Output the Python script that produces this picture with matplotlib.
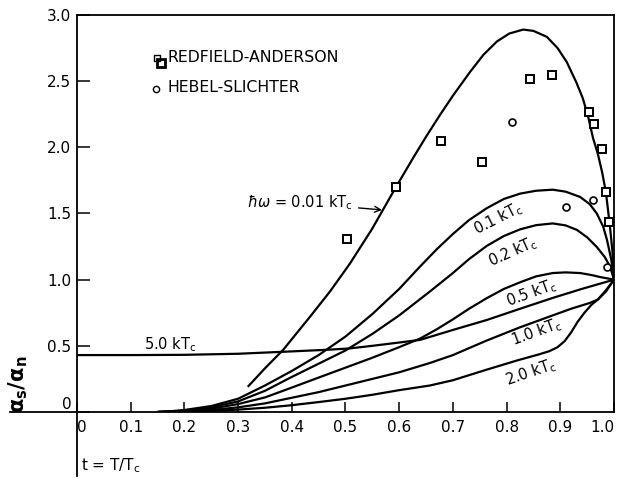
import matplotlib
matplotlib.use('Agg')
import matplotlib.pyplot as plt

# theoretical alpha_s/alpha_n curves, one per photon energy (t = T/Tc)
t_001 = [0.318, 0.35, 0.384, 0.397, 0.434, 0.471, 0.508, 0.549, 0.594, 0.626, 0.65,
         0.676, 0.70, 0.732, 0.757, 0.782, 0.805, 0.831, 0.85, 0.875, 0.895, 0.912,
         0.93, 0.942, 0.952, 0.961, 0.97, 0.978, 0.985, 0.992, 0.997, 1.0]
a_001 = [0.19, 0.33, 0.47, 0.535, 0.72, 0.91, 1.12, 1.38, 1.70, 1.92, 2.08,
         2.245, 2.39, 2.57, 2.70, 2.80, 2.86, 2.89, 2.88, 2.835, 2.75, 2.645,
         2.49, 2.37, 2.23, 2.07, 1.95, 1.81, 1.66, 1.42, 1.22, 1.0]

t_01 = [0.15, 0.175, 0.2, 0.25, 0.3, 0.35, 0.4, 0.45, 0.5, 0.55, 0.6,
        0.639, 0.67, 0.70, 0.73, 0.763, 0.795, 0.825, 0.855, 0.886, 0.91, 0.937,
        0.955, 0.968, 0.98, 0.987, 0.995, 1.0]
a_01 = [0.0, 0.006, 0.015, 0.045, 0.10, 0.20, 0.31, 0.43, 0.57, 0.74, 0.93,
        1.10, 1.23, 1.345, 1.45, 1.54, 1.61, 1.65, 1.672, 1.68, 1.665, 1.625,
        1.57, 1.50, 1.40, 1.30, 1.15, 1.0]

t_02 = [0.15, 0.175, 0.2, 0.25, 0.3, 0.35, 0.4, 0.45, 0.5, 0.55, 0.6, 0.657,
        0.70, 0.73, 0.763, 0.795, 0.825, 0.855, 0.886, 0.91, 0.931, 0.95, 0.968,
        0.983, 0.993, 1.0]
a_02 = [0.0, 0.004, 0.01, 0.035, 0.08, 0.16, 0.265, 0.365, 0.465, 0.59, 0.73, 0.91,
        1.05, 1.155, 1.255, 1.33, 1.38, 1.412, 1.425, 1.41, 1.376, 1.32, 1.247,
        1.17, 1.096, 1.0]

t_05 = [0.15, 0.175, 0.2, 0.25, 0.3, 0.35, 0.397, 0.45, 0.5, 0.55, 0.6, 0.639,
        0.67, 0.70, 0.73, 0.763, 0.795, 0.825, 0.855, 0.886, 0.91, 0.937, 0.958,
        0.974, 1.0]
a_05 = [0.0, 0.003, 0.008, 0.025, 0.06, 0.11, 0.18, 0.26, 0.335, 0.41, 0.49, 0.555,
        0.625, 0.70, 0.78, 0.86, 0.93, 0.98, 1.025, 1.05, 1.055, 1.05, 1.035,
        1.02, 1.0]

t_10 = [0.15, 0.175, 0.2, 0.25, 0.3, 0.35, 0.397, 0.45, 0.5, 0.55, 0.6, 0.657,
        0.70, 0.763, 0.825, 0.886, 0.92, 0.955, 0.97, 0.985, 1.0]
a_10 = [0.0, 0.002, 0.005, 0.015, 0.035, 0.065, 0.105, 0.15, 0.20, 0.25, 0.30, 0.37,
        0.43, 0.54, 0.64, 0.73, 0.78, 0.824, 0.85, 0.91, 1.0]

t_20 = [0.15, 0.2, 0.25, 0.3, 0.35, 0.397, 0.45, 0.5, 0.55, 0.6, 0.657, 0.70,
        0.763, 0.82, 0.86, 0.88, 0.895, 0.908, 0.92, 0.932, 0.945, 0.958, 0.97,
        0.985, 1.0]
a_20 = [0.0, 0.003, 0.008, 0.018, 0.032, 0.05, 0.075, 0.10, 0.13, 0.165, 0.20, 0.24,
        0.32, 0.39, 0.435, 0.46, 0.49, 0.535, 0.60, 0.68, 0.75, 0.81, 0.85,
        0.92, 1.0]

t_50 = [0.0, 0.1, 0.2, 0.3, 0.384, 0.465, 0.507, 0.55, 0.6, 0.639, 0.70, 0.763,
        0.825, 0.886, 0.94, 1.0]
a_50 = [0.43, 0.43, 0.432, 0.44, 0.455, 0.47, 0.48, 0.50, 0.525, 0.545, 0.62, 0.695,
        0.78, 0.862, 0.93, 1.0]

# measurements
ra_t = [0.502, 0.594, 0.677, 0.755, 0.844, 0.885, 0.954, 0.963, 0.977, 0.985, 0.991]
ra_a = [1.305, 1.70, 2.05, 1.89, 2.515, 2.55, 2.27, 2.18, 1.985, 1.665, 1.434]
hs_t = [0.811, 0.911, 0.960, 0.987]
hs_a = [2.195, 1.547, 1.60, 1.094]

yticks = [0, 0.5, 1.0, 1.5, 2.0, 2.5, 3.0]
ytick_labels = ['0', '0.5', '1.0', '1.5', '2.0', '2.5', '3.0']
xticks = [0, 0.1, 0.2, 0.3, 0.4, 0.5, 0.6, 0.7, 0.8, 0.9, 1.0]
xtick_labels = ['0', '0.1', '0.2', '0.3', '0.4', '0.5', '0.6', '0.7', '0.8', '0.9', '1.0']

fig = plt.figure(figsize=(6.18, 4.78), dpi=100)
ax = fig.add_axes([0.1246, 0.1381, 0.8689, 0.8305])
ax.set_xlim(0, 1)
ax.set_ylim(0, 3)

lw = 1.6
for tt, aa in [(t_001, a_001), (t_01, a_01), (t_02, a_02), (t_05, a_05),
               (t_10, a_10), (t_20, a_20), (t_50, a_50)]:
    ax.plot(tt, aa, color='black', lw=lw, solid_capstyle='butt', solid_joinstyle='round')

ax.plot(ra_t, ra_a, 's', ms=6, mfc='white', mec='black', mew=1.4)
ax.plot(hs_t, hs_a, 'o', ms=5, mfc='white', mec='black', mew=1.2)

# key
ax.plot([0.149], [2.676], 's', ms=4.5, mfc='white', mec='black', mew=1.0)
ax.plot([0.156], [2.64], 's', ms=6, mfc='none', mec='black', mew=2.0)
ax.plot([0.147], [2.44], 'o', ms=4.5, mfc='white', mec='black', mew=1.0)
ax.text(0.169, 2.68, 'REDFIELD-ANDERSON', fontsize=11.3, va='center', ha='left')
ax.text(0.169, 2.45, 'HEBEL-SLICHTER', fontsize=11.3, va='center', ha='left')

# curve labels
fs = 10.5
ax.annotate(r'$\hbar\omega$ = 0.01 kT$_\mathrm{c}$', xy=(0.568, 1.527), xytext=(0.317, 1.58),
            fontsize=fs, va='center', ha='left',
            arrowprops=dict(arrowstyle='->', color='black', lw=1.0, shrinkA=2, shrinkB=0))
ax.text(0.784, 1.46, r'0.1 kT$_\mathrm{c}$', fontsize=fs, rotation=27, ha='center', va='center')
ax.text(0.812, 1.21, r'0.2 kT$_\mathrm{c}$', fontsize=fs, rotation=24, ha='center', va='center')
ax.text(0.847, 0.90, r'0.5 kT$_\mathrm{c}$', fontsize=fs, rotation=20, ha='center', va='center')
ax.text(0.856, 0.60, r'1.0 kT$_\mathrm{c}$', fontsize=fs, rotation=20, ha='center', va='center')
ax.text(0.845, 0.30, r'2.0 kT$_\mathrm{c}$', fontsize=fs, rotation=19, ha='center', va='center')
ax.text(0.173, 0.51, r'5.0 kT$_\mathrm{c}$', fontsize=fs, ha='center', va='center')

# axes frame, ticks pointing inward
for s in ax.spines.values():
    s.set_linewidth(1.3)
ax.set_xticks(xticks)
ax.set_xticklabels(xtick_labels)
ax.set_yticks(yticks)
ax.set_yticklabels(ytick_labels)
ax.tick_params(axis='x', direction='in', length=7, width=1.1, labelsize=11, pad=6)
ax.tick_params(axis='y', direction='in', length=9, width=1.1, labelsize=11, pad=4)
ax.get_yticklabels()[0].set_va('bottom')
ax.get_xticklabels()[0].set_ha('left')
ax.get_xticklabels()[-1].set_ha('right')

# extended axis lines
ax.plot([0, 0], [0, -0.16], transform=ax.transAxes, color='black', lw=1.3, clip_on=False)
ax.plot([-0.125, 0], [0, 0], transform=ax.transAxes, color='black', lw=1.3, clip_on=False)

ax.text(-0.11, 0.07, r'$\mathbf{\alpha_s/\alpha_n}$', transform=ax.transAxes,
        rotation=90, fontsize=15, ha='center', va='center')
ax.text(0.008, -0.135, r't = T/T$_\mathrm{c}$', transform=ax.transAxes,
        fontsize=11, ha='left', va='center')

fig.savefig('out.png', dpi=100)
